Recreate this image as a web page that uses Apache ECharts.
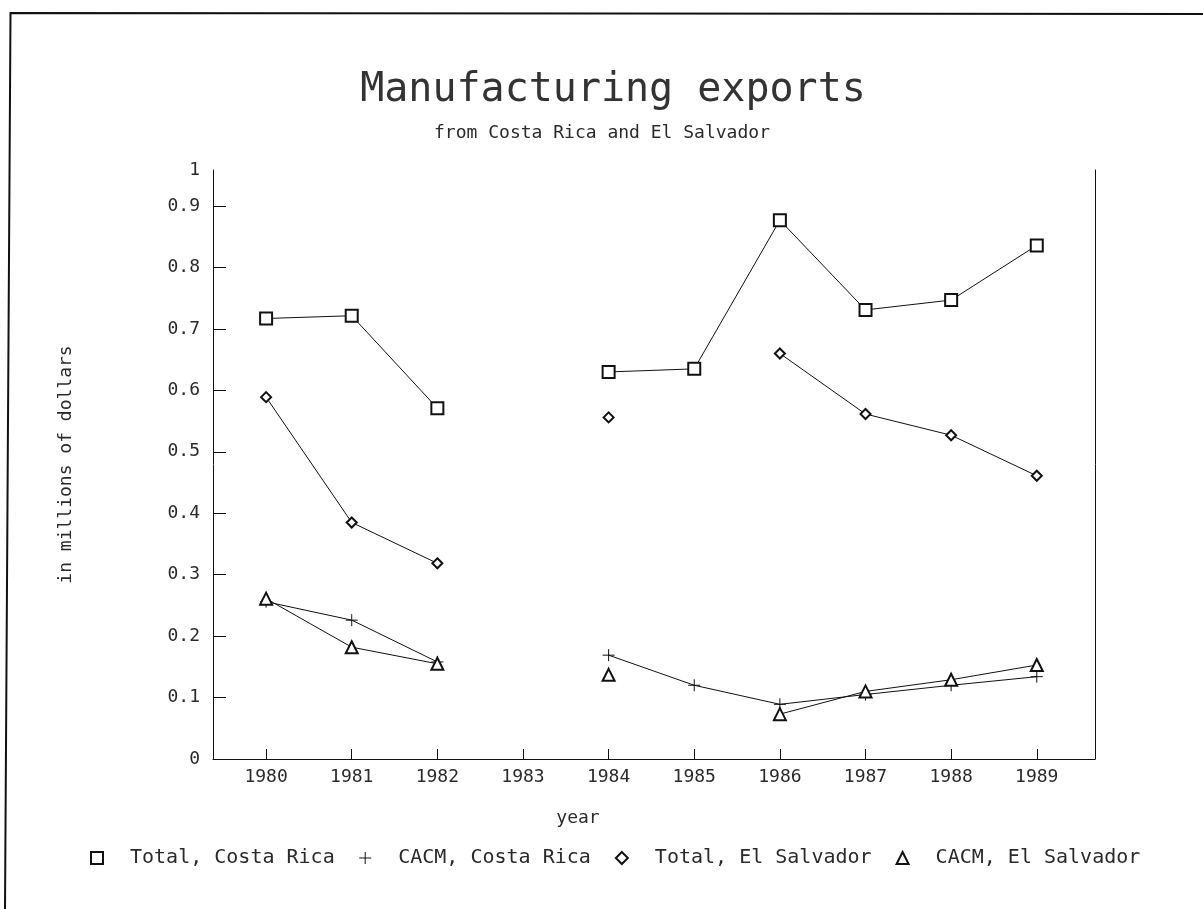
<!DOCTYPE html>
<html>
<head>
<meta charset="utf-8">
<script src="https://cdn.jsdelivr.net/npm/echarts@6/dist/echarts.min.js"></script>
<style>
  html, body { margin: 0; padding: 0; background: #fff; }
  #chart { width: 1203px; height: 909px; }
</style>
</head>
<body>
<div id="chart"></div>
<script>
// Years on the horizontal axis (1983 has no observations)
const years = [1980, 1981, 1982, 1983, 1984, 1985, 1986, 1987, 1988, 1989];

// Exports, in millions of dollars
const totalCostaRica   = [0.717, 0.7215, 0.571, null, 0.630, 0.635, 0.877, 0.731, 0.747, 0.836];
const cacmCostaRica    = [0.256, 0.226, 0.158, null, 0.169, 0.120, 0.089, 0.105, 0.120, 0.134];
const totalElSalvador  = [0.589, 0.385, 0.3185, null, 0.556, null, 0.660, 0.5615, 0.527, 0.461];
const cacmElSalvador   = [0.261, 0.182, 0.155, null, 0.137, null, 0.073, 0.110, 0.129, 0.153];

// Axis ticks
const yTicks = [0, 0.1, 0.2, 0.3, 0.4, 0.5, 0.6, 0.7, 0.8, 0.9];
const yTopLabel = '1';

const seriesNames = ['Total, Costa Rica', 'CACM, Costa Rica', 'Total, El Salvador', 'CACM, El Salvador'];

const FONT = '"DejaVu Sans Mono", monospace';
const INK = '#111';
const TEXT = '#2a2a2a';
const Y_MAX = 0.9587;
const PLUS = 'path://M0,5L10,5M5,0L5,10';

function pairs(vals) {
  return years.map((y, i) => [y, vals[i] == null ? '-' : vals[i]]);
}

function lineSeries(name, vals, symbol, size) {
  return {
    name: name,
    type: 'line',
    data: pairs(vals),
    symbol: symbol,
    symbolSize: size,
    showAllSymbol: true,
    connectNulls: false,
    lineStyle: { color: INK, width: 1 },
    itemStyle: { color: INK, borderColor: INK, borderWidth: 1 },
    emphasis: { disabled: true },
    z: 3
  };
}

const chart = echarts.init(document.getElementById('chart'), null, { renderer: 'canvas' });

chart.setOption({
  backgroundColor: '#fff',
  animation: false,
  textStyle: { fontFamily: FONT, color: TEXT },
  title: [
    {
      text: 'Manufacturing exports',
      left: 608, top: 66, textAlign: 'center',
      textStyle: { fontFamily: FONT, fontSize: 40, fontWeight: 'normal', color: '#333' }
    },
    {
      text: 'from Costa Rica and El Salvador',
      left: 597, top: 119, textAlign: 'center',
      textStyle: { fontFamily: FONT, fontSize: 18, fontWeight: 'normal', color: TEXT }
    }
  ],
  grid: { left: 213, right: 108, top: 170, bottom: 150 },
  xAxis: {
    type: 'value',
    min: 1979.38,
    max: 1989.68,
    name: 'year',
    nameLocation: 'middle',
    nameGap: 50,
    nameTextStyle: { fontFamily: FONT, fontSize: 18, color: TEXT, padding: [0, 152, 0, 0] },
    axisLine: { show: true, lineStyle: { color: INK, width: 1 } },
    axisTick: { show: true, inside: true, length: 10, customValues: years, lineStyle: { color: INK } },
    axisLabel: {
      customValues: years, margin: 9,
      fontFamily: FONT, fontSize: 18, color: TEXT,
      formatter: v => String(v)
    },
    splitLine: { show: false }
  },
  yAxis: [
    {
      type: 'value',
      min: 0,
      max: Y_MAX,
      name: 'in millions of dollars',
      nameLocation: 'middle',
      nameRotate: 90,
      nameGap: 138,
      nameTextStyle: { fontFamily: FONT, fontSize: 18, color: TEXT },
      axisLine: { show: true, lineStyle: { color: INK, width: 1 } },
      axisTick: { show: true, inside: true, length: 13, customValues: yTicks, lineStyle: { color: INK } },
      axisLabel: {
        customValues: yTicks.concat([Y_MAX]), margin: 13,
        fontFamily: FONT, fontSize: 18, color: TEXT,
        formatter: v => (v > 0.95 ? yTopLabel : String(Math.round(v * 10) / 10))
      },
      splitLine: { show: false }
    },
    {
      type: 'value',
      min: 0,
      max: Y_MAX,
      position: 'right',
      axisLine: { show: true, lineStyle: { color: INK, width: 1 } },
      axisTick: { show: false },
      axisLabel: { show: false },
      splitLine: { show: false }
    }
  ],
  legend: {
    left: 85,
    top: 843,
    orient: 'horizontal',
    itemWidth: 12,
    itemHeight: 12,
    itemGap: 24,
    selectedMode: false,
    itemStyle: { borderColor: INK, borderWidth: 1 },
    textStyle: { fontFamily: FONT, fontSize: 20, color: TEXT, padding: [0, 0, 0, 22] },
    data: [
      { name: seriesNames[0], icon: 'emptyRect' },
      { name: seriesNames[1], icon: PLUS },
      { name: seriesNames[2], icon: 'emptyDiamond' },
      { name: seriesNames[3], icon: 'emptyTriangle' }
    ]
  },
  series: [
    lineSeries(seriesNames[0], totalCostaRica, 'emptyRect', 12),
    lineSeries(seriesNames[1], cacmCostaRica, PLUS, 12),
    lineSeries(seriesNames[2], totalElSalvador, 'emptyDiamond', 10),
    lineSeries(seriesNames[3], cacmElSalvador, 'emptyTriangle', 12)
  ],
  graphic: [
    {
      type: 'polyline',
      silent: true,
      shape: { points: [[5, 909], [10.5, 13], [1203, 14]] },
      style: { stroke: '#111', lineWidth: 2, fill: null }
    }
  ]
});
</script>
</body>
</html>
